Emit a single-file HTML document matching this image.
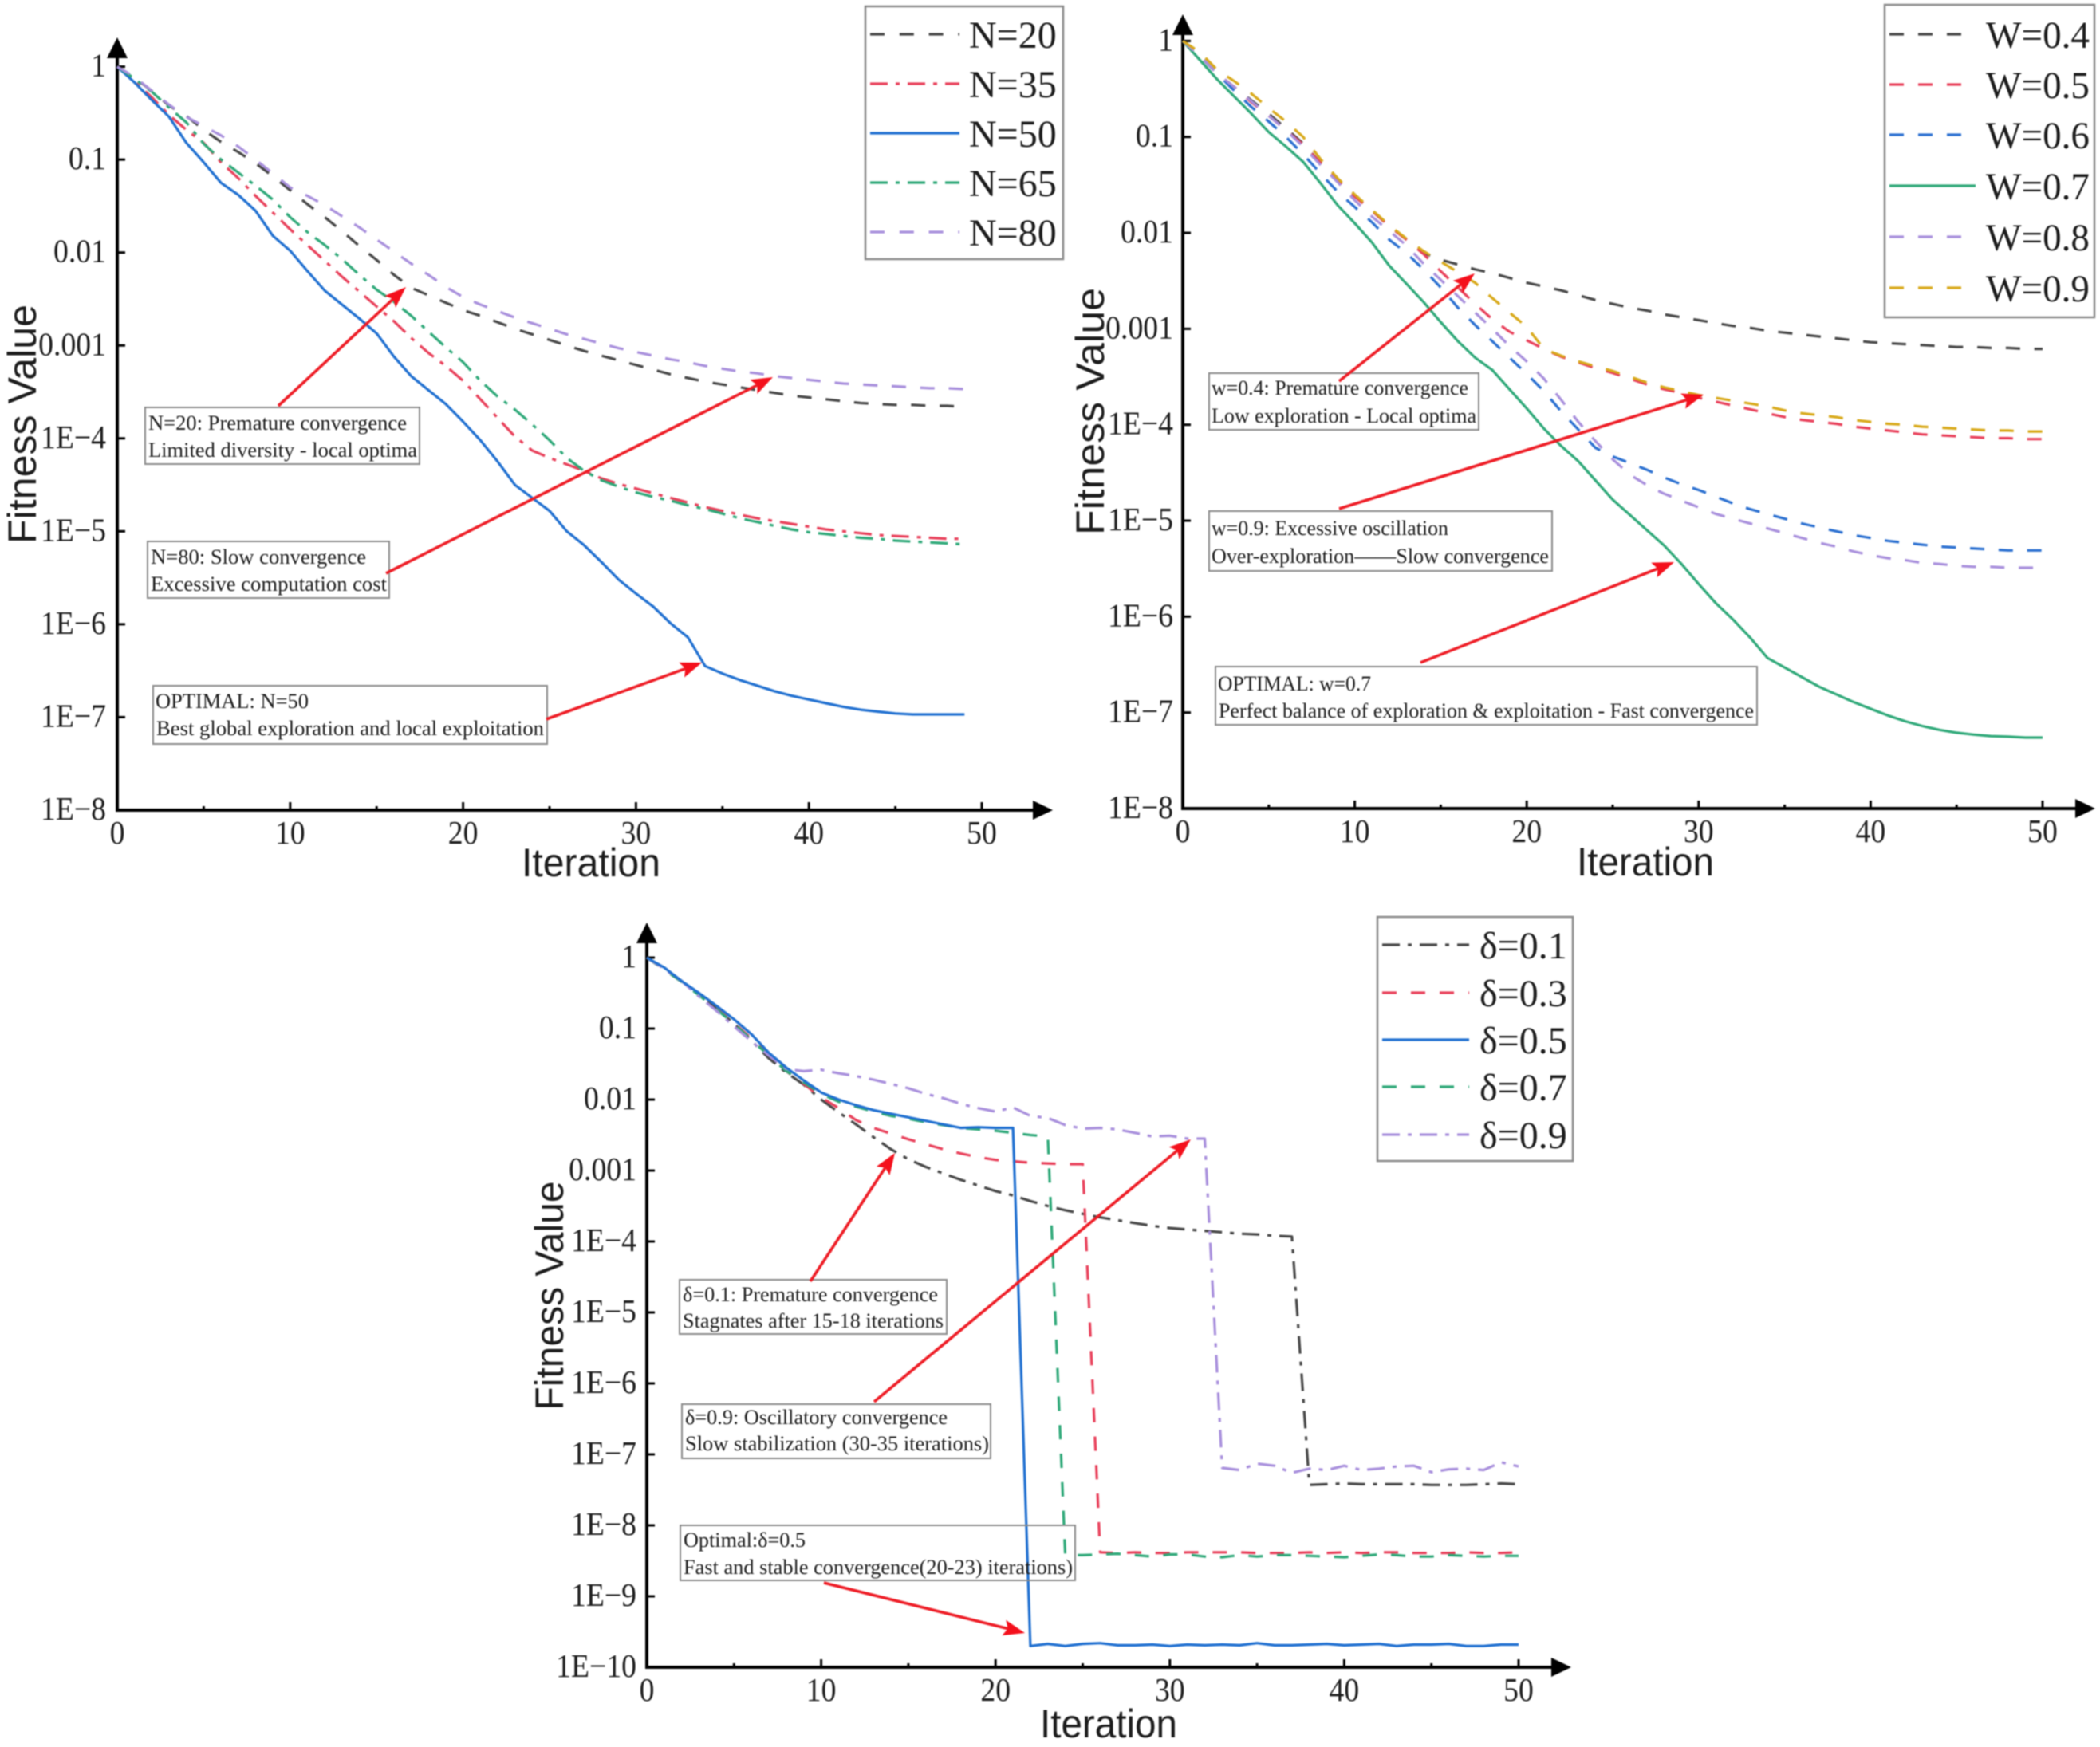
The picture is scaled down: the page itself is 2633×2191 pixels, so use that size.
<!DOCTYPE html>
<html lang="en">
<head>
<meta charset="utf-8">
<title>Fitness convergence charts</title>
<style>
html,body{margin:0;padding:0;background:#fff;}
svg{display:block;filter:blur(0.7px);}
text{fill:#1c1c1c;}
.serif{font-family:"Liberation Serif","Noto Serif CJK SC",serif;}
.sans{font-family:"Liberation Sans",sans-serif;}
.axis-title{font-family:"Liberation Sans",sans-serif;font-size:50px;}
.tick{font-family:"Liberation Serif",serif;font-size:41px;}
.legend-text{font-family:"Liberation Serif",serif;font-size:48px;}
.note{font-family:"Liberation Serif",serif;font-size:26px;}
.box{fill:none;stroke:#8a8a8a;stroke-width:2;}
.legend-box{fill:none;stroke:#8a8a8a;stroke-width:2.5;}
.swatch{fill:none;stroke-width:3.2;}
</style>
</head>
<body>
<svg xmlns="http://www.w3.org/2000/svg" width="2633" height="2191" viewBox="0 0 2633 2191">
<rect width="2633" height="2191" fill="#fff"/>

<!-- Chart 1 -->
<g id="chart-n">
  <g id="axes-n"></g>
  <g id="series-n"></g>
  <text class="axis-title" x="741" y="1099" text-anchor="middle" textLength="174" lengthAdjust="spacingAndGlyphs">Iteration</text>
  <text class="axis-title" transform="translate(45,532) rotate(-90)" text-anchor="middle" textLength="300" lengthAdjust="spacingAndGlyphs">Fitness Value</text>

  <g>
    <rect class="legend-box" x="1085" y="8" width="248" height="317"/>
    <line class="swatch" x1="1091" x2="1203" y1="43" y2="43" stroke="#474747" stroke-dasharray="18 18.8"/>
    <text class="legend-text" x="1215" y="60">N=20</text>
    <line class="swatch" x1="1091" x2="1203" y1="105" y2="105" stroke="#e8405a" stroke-dasharray="22 10 5 10"/>
    <text class="legend-text" x="1215" y="122">N=35</text>
    <line class="swatch" x1="1091" x2="1203" y1="167" y2="167" stroke="#1f6fd0"/>
    <text class="legend-text" x="1215" y="184">N=50</text>
    <line class="swatch" x1="1091" x2="1203" y1="229" y2="229" stroke="#2ea878" stroke-dasharray="22 10 5 10"/>
    <text class="legend-text" x="1215" y="246">N=65</text>
    <line class="swatch" x1="1091" x2="1203" y1="291" y2="291" stroke="#a88fdc" stroke-dasharray="18 18.8"/>
    <text class="legend-text" x="1215" y="308">N=80</text>
  </g>

  <g>
    <rect class="box" x="182" y="511" width="344" height="71"/>
    <text class="note" x="186" y="539" textLength="324" lengthAdjust="spacingAndGlyphs">N=20: Premature convergence</text>
    <text class="note" x="186" y="573" textLength="337" lengthAdjust="spacingAndGlyphs">Limited diversity - local optima</text>
  </g>
  <g>
    <rect class="box" x="185" y="679" width="303" height="71"/>
    <text class="note" x="189" y="707" textLength="270" lengthAdjust="spacingAndGlyphs">N=80: Slow convergence</text>
    <text class="note" x="189" y="741" textLength="296" lengthAdjust="spacingAndGlyphs">Excessive computation cost</text>
  </g>
  <g>
    <rect class="box" x="192" y="860" width="494" height="73"/>
    <text class="note" x="195" y="888" textLength="192" lengthAdjust="spacingAndGlyphs">OPTIMAL: N=50</text>
    <text class="note" x="196" y="922" textLength="486" lengthAdjust="spacingAndGlyphs">Best global exploration and local exploitation</text>
  </g>
  <g id="arrows-n"></g>
</g>

<!-- Chart 2 -->
<g id="chart-w">
  <g id="axes-w"></g>
  <g id="series-w"></g>
  <text class="axis-title" x="2063" y="1098" text-anchor="middle" textLength="172" lengthAdjust="spacingAndGlyphs">Iteration</text>
  <text class="axis-title" transform="translate(1384,516) rotate(-90)" text-anchor="middle" textLength="310" lengthAdjust="spacingAndGlyphs">Fitness Value</text>

  <g>
    <rect class="legend-box" x="2363" y="6" width="263" height="392"/>
    <line class="swatch" x1="2369" x2="2477" y1="43" y2="43" stroke="#474747" stroke-dasharray="18 18"/>
    <text class="legend-text" x="2490" y="60" textLength="130" lengthAdjust="spacingAndGlyphs">W=0.4</text>
    <line class="swatch" x1="2369" x2="2477" y1="106" y2="106" stroke="#e8405a" stroke-dasharray="18 18"/>
    <text class="legend-text" x="2490" y="123" textLength="130" lengthAdjust="spacingAndGlyphs">W=0.5</text>
    <line class="swatch" x1="2369" x2="2477" y1="169" y2="169" stroke="#2a6fd0" stroke-dasharray="18 18"/>
    <text class="legend-text" x="2490" y="186" textLength="130" lengthAdjust="spacingAndGlyphs">W=0.6</text>
    <line class="swatch" x1="2369" x2="2477" y1="233" y2="233" stroke="#2ea878"/>
    <text class="legend-text" x="2490" y="250" textLength="130" lengthAdjust="spacingAndGlyphs">W=0.7</text>
    <line class="swatch" x1="2369" x2="2477" y1="297" y2="297" stroke="#a88fdc" stroke-dasharray="18 18"/>
    <text class="legend-text" x="2490" y="314" textLength="130" lengthAdjust="spacingAndGlyphs">W=0.8</text>
    <line class="swatch" x1="2369" x2="2477" y1="361" y2="361" stroke="#d8a91a" stroke-dasharray="18 18"/>
    <text class="legend-text" x="2490" y="378" textLength="130" lengthAdjust="spacingAndGlyphs">W=0.9</text>
  </g>

  <g>
    <rect class="box" x="1516" y="468" width="338" height="71"/>
    <text class="note" x="1519" y="495" textLength="322" lengthAdjust="spacingAndGlyphs">w=0.4: Premature convergence</text>
    <text class="note" x="1519" y="530" textLength="332" lengthAdjust="spacingAndGlyphs">Low exploration - Local optima</text>
  </g>
  <g>
    <rect class="box" x="1516" y="641" width="430" height="75"/>
    <text class="note" x="1519" y="671" textLength="297" lengthAdjust="spacingAndGlyphs">w=0.9: Excessive oscillation</text>
    <text class="note" x="1519" y="706" textLength="423" lengthAdjust="spacingAndGlyphs">Over-exploration——Slow convergence</text>
  </g>
  <g>
    <rect class="box" x="1524" y="836" width="679" height="73"/>
    <text class="note" x="1527" y="866" textLength="192" lengthAdjust="spacingAndGlyphs">OPTIMAL: w=0.7</text>
    <text class="note" x="1528" y="900" textLength="671" lengthAdjust="spacingAndGlyphs">Perfect balance of exploration &amp; exploitation - Fast convergence</text>
  </g>
  <g id="arrows-w"></g>
</g>

<!-- Chart 3 -->
<g id="chart-d">
  <g id="axes-d"></g>
  <g id="series-d"></g>
  <text class="axis-title" x="1390" y="2179" text-anchor="middle" textLength="172" lengthAdjust="spacingAndGlyphs">Iteration</text>
  <text class="axis-title" transform="translate(706,1625) rotate(-90)" text-anchor="middle" textLength="287" lengthAdjust="spacingAndGlyphs">Fitness Value</text>

  <g>
    <rect class="legend-box" x="1727" y="1150" width="245" height="306"/>
    <line class="swatch" x1="1733" x2="1842" y1="1185" y2="1185" stroke="#474747" stroke-dasharray="22 10 5 10"/>
    <text class="legend-text" x="1855" y="1202">δ=0.1</text>
    <line class="swatch" x1="1733" x2="1842" y1="1245" y2="1245" stroke="#e8405a" stroke-dasharray="18 18"/>
    <text class="legend-text" x="1855" y="1262">δ=0.3</text>
    <line class="swatch" x1="1733" x2="1842" y1="1304" y2="1304" stroke="#1f6fd0"/>
    <text class="legend-text" x="1855" y="1321">δ=0.5</text>
    <line class="swatch" x1="1733" x2="1842" y1="1363" y2="1363" stroke="#2ea878" stroke-dasharray="18 18"/>
    <text class="legend-text" x="1855" y="1380">δ=0.7</text>
    <line class="swatch" x1="1733" x2="1842" y1="1423" y2="1423" stroke="#a88fdc" stroke-dasharray="22 10 5 10"/>
    <text class="legend-text" x="1855" y="1440">δ=0.9</text>
  </g>

  <g>
    <rect class="box" x="852" y="1605" width="335" height="68"/>
    <text class="note" x="856" y="1632" textLength="320" lengthAdjust="spacingAndGlyphs">δ=0.1: Premature convergence</text>
    <text class="note" x="856" y="1665" textLength="327" lengthAdjust="spacingAndGlyphs">Stagnates after 15-18 iterations</text>
  </g>
  <g>
    <rect class="box" x="855" y="1761" width="387" height="68"/>
    <text class="note" x="859" y="1786" textLength="329" lengthAdjust="spacingAndGlyphs">δ=0.9: Oscillatory convergence</text>
    <text class="note" x="859" y="1819" textLength="381" lengthAdjust="spacingAndGlyphs">Slow stabilization (30-35 iterations)</text>
  </g>
  <g>
    <rect class="box" x="853" y="1913" width="495" height="69"/>
    <text class="note" x="857" y="1940" textLength="153" lengthAdjust="spacingAndGlyphs">Optimal:δ=0.5</text>
    <text class="note" x="857" y="1974" textLength="488" lengthAdjust="spacingAndGlyphs">Fast and stable convergence(20-23) iterations)</text>
  </g>
  <g id="arrows-d"></g>
</g>
</svg>

<script>
// Tick labels
var xTickLabels = ['0','10','20','30','40','50'];
var yTickLabelsEight = ['1','0.1','0.01','0.001','1E\u22124','1E\u22125','1E\u22126','1E\u22127','1E\u22128'];
var yTickLabelsTen = ['1','0.1','0.01','0.001','1E\u22124','1E\u22125','1E\u22126','1E\u22127','1E\u22128','1E\u22129','1E\u221210'];

// log10(fitness) per iteration, population-size chart
var n20Log = [0,-.12,-.26,-.42,-.53,-.68,-.81,-.92,-1.04,-1.18,-1.33,-1.48,-1.62,-1.77,-1.93,-2.08,-2.24,-2.38,-2.46,-2.54,-2.62,-2.68,-2.75,-2.82,-2.88,-2.94,-3.0,-3.06,-3.11,-3.16,-3.21,-3.26,-3.31,-3.35,-3.39,-3.42,-3.45,-3.48,-3.51,-3.54,-3.56,-3.58,-3.60,-3.62,-3.63,-3.64,-3.64,-3.65,-3.65,-3.66];
var n35Log = [0,-.16,-.33,-.52,-.68,-.82,-1.03,-1.20,-1.39,-1.57,-1.75,-1.92,-2.09,-2.26,-2.42,-2.58,-2.74,-2.92,-3.08,-3.22,-3.38,-3.58,-3.78,-3.98,-4.13,-4.21,-4.28,-4.35,-4.43,-4.49,-4.54,-4.59,-4.64,-4.69,-4.74,-4.78,-4.82,-4.86,-4.89,-4.92,-4.95,-4.98,-5.0,-5.02,-5.04,-5.05,-5.06,-5.07,-5.08,-5.08];
var n50Log = [0,-.17,-.36,-.54,-.82,-1.03,-1.25,-1.38,-1.55,-1.82,-1.98,-2.20,-2.41,-2.56,-2.71,-2.87,-3.12,-3.33,-3.48,-3.63,-3.82,-4.02,-4.25,-4.50,-4.64,-4.78,-5.0,-5.15,-5.33,-5.52,-5.67,-5.81,-5.99,-6.14,-6.45,-6.53,-6.60,-6.66,-6.72,-6.77,-6.81,-6.85,-6.89,-6.92,-6.94,-6.96,-6.97,-6.97,-6.97,-6.97];
var n65Log = [0,-.13,-.27,-.44,-.60,-.83,-1.0,-1.14,-1.28,-1.43,-1.62,-1.78,-1.92,-2.07,-2.24,-2.40,-2.53,-2.68,-2.85,-3.02,-3.18,-3.38,-3.55,-3.69,-3.85,-4.02,-4.21,-4.35,-4.45,-4.52,-4.58,-4.63,-4.67,-4.72,-4.76,-4.81,-4.86,-4.90,-4.94,-4.98,-5.01,-5.03,-5.05,-5.07,-5.08,-5.10,-5.11,-5.12,-5.13,-5.14];
var n80Log = [0,-.11,-.26,-.41,-.54,-.64,-.74,-.86,-1.0,-1.15,-1.30,-1.39,-1.49,-1.61,-1.73,-1.86,-1.99,-2.12,-2.24,-2.37,-2.48,-2.56,-2.63,-2.70,-2.76,-2.82,-2.88,-2.93,-2.98,-3.03,-3.07,-3.11,-3.15,-3.18,-3.22,-3.25,-3.28,-3.30,-3.33,-3.35,-3.37,-3.39,-3.41,-3.42,-3.43,-3.44,-3.45,-3.46,-3.46,-3.47];

// log10(fitness) per iteration, inertia-weight chart
var w04Log = [0,-.16,-.34,-.48,-.62,-.76,-.91,-1.07,-1.27,-1.45,-1.62,-1.77,-1.93,-2.07,-2.21,-2.28,-2.33,-2.38,-2.42,-2.47,-2.52,-2.56,-2.60,-2.65,-2.70,-2.74,-2.78,-2.81,-2.85,-2.88,-2.91,-2.94,-2.97,-2.99,-3.02,-3.04,-3.06,-3.08,-3.10,-3.12,-3.14,-3.15,-3.16,-3.17,-3.18,-3.19,-3.19,-3.20,-3.20,-3.21,-3.21];
var w05Log = [0,-.16,-.34,-.48,-.64,-.78,-.93,-1.08,-1.27,-1.45,-1.62,-1.77,-1.93,-2.07,-2.22,-2.40,-2.57,-2.74,-2.90,-3.03,-3.12,-3.21,-3.29,-3.35,-3.41,-3.46,-3.52,-3.58,-3.63,-3.67,-3.72,-3.76,-3.80,-3.84,-3.88,-3.92,-3.95,-3.97,-3.99,-4.02,-4.04,-4.06,-4.08,-4.10,-4.11,-4.12,-4.13,-4.14,-4.14,-4.15,-4.15];
var w06Log = [0,-.16,-.34,-.52,-.69,-.84,-1.0,-1.18,-1.38,-1.57,-1.73,-1.89,-2.07,-2.21,-2.38,-2.57,-2.78,-2.96,-3.13,-3.30,-3.47,-3.65,-3.86,-4.05,-4.24,-4.33,-4.40,-4.47,-4.55,-4.62,-4.68,-4.75,-4.82,-4.88,-4.93,-4.98,-5.03,-5.07,-5.11,-5.15,-5.18,-5.21,-5.23,-5.25,-5.27,-5.28,-5.29,-5.30,-5.31,-5.31,-5.31];
var w07Log = [0,-.20,-.40,-.58,-.76,-.95,-1.10,-1.26,-1.48,-1.71,-1.90,-2.10,-2.34,-2.53,-2.72,-2.93,-3.13,-3.30,-3.43,-3.63,-3.83,-4.04,-4.22,-4.38,-4.58,-4.78,-4.94,-5.10,-5.26,-5.45,-5.66,-5.86,-6.03,-6.22,-6.43,-6.53,-6.63,-6.73,-6.81,-6.89,-6.96,-7.03,-7.09,-7.14,-7.18,-7.21,-7.23,-7.245,-7.25,-7.26,-7.26];
var w08Log = [0,-.16,-.34,-.48,-.63,-.78,-.93,-1.10,-1.29,-1.47,-1.66,-1.83,-1.98,-2.13,-2.32,-2.49,-2.66,-2.83,-3.0,-3.18,-3.34,-3.52,-3.74,-3.97,-4.17,-4.36,-4.52,-4.63,-4.72,-4.79,-4.86,-4.93,-4.98,-5.03,-5.08,-5.13,-5.18,-5.23,-5.27,-5.32,-5.36,-5.39,-5.41,-5.44,-5.45,-5.47,-5.48,-5.48,-5.49,-5.49,-5.49];
var w09Log = [0,-.12,-.30,-.42,-.55,-.70,-.84,-1.0,-1.23,-1.43,-1.60,-1.76,-1.92,-2.06,-2.19,-2.30,-2.41,-2.52,-2.68,-2.83,-2.98,-3.21,-3.28,-3.34,-3.39,-3.44,-3.50,-3.56,-3.61,-3.65,-3.69,-3.72,-3.75,-3.78,-3.81,-3.85,-3.88,-3.90,-3.92,-3.95,-3.97,-3.99,-4.00,-4.02,-4.03,-4.04,-4.05,-4.06,-4.06,-4.07,-4.07];

// log10(fitness) per iteration, delta chart
var d01Log = [0,-.15,-.33,-.52,-.72,-.93,-1.17,-1.42,-1.62,-1.79,-2.00,-2.18,-2.35,-2.53,-2.70,-2.84,-2.95,-3.04,-3.13,-3.21,-3.29,-3.35,-3.43,-3.50,-3.56,-3.61,-3.66,-3.70,-3.74,-3.78,-3.81,-3.83,-3.85,-3.87,-3.89,-3.90,-3.92,-3.93,-7.43,-7.42,-7.41,-7.42,-7.42,-7.42,-7.42,-7.43,-7.43,-7.43,-7.42,-7.41,-7.42];
var d03Log = [0,-.17,-.34,-.52,-.72,-.92,-1.14,-1.36,-1.60,-1.78,-1.97,-2.12,-2.29,-2.40,-2.48,-2.56,-2.63,-2.70,-2.76,-2.81,-2.85,-2.87,-2.89,-2.90,-2.91,-2.91,-8.38,-8.39,-8.38,-8.39,-8.39,-8.38,-8.38,-8.38,-8.38,-8.39,-8.39,-8.39,-8.38,-8.39,-8.38,-8.39,-8.38,-8.38,-8.39,-8.39,-8.39,-8.38,-8.39,-8.39,-8.38];
var d05Log = [0,-.14,-.33,-.50,-.68,-.87,-1.08,-1.34,-1.55,-1.73,-1.90,-2.00,-2.08,-2.15,-2.20,-2.25,-2.30,-2.35,-2.40,-2.39,-2.40,-2.40,-9.70,-9.67,-9.70,-9.67,-9.66,-9.69,-9.69,-9.68,-9.70,-9.68,-9.69,-9.68,-9.69,-9.66,-9.69,-9.69,-9.68,-9.67,-9.69,-9.68,-9.67,-9.70,-9.68,-9.68,-9.67,-9.70,-9.70,-9.68,-9.68];
var d07Log = [0,-.17,-.34,-.53,-.73,-.93,-1.16,-1.38,-1.60,-1.76,-1.92,-2.03,-2.10,-2.17,-2.23,-2.27,-2.32,-2.36,-2.40,-2.42,-2.44,-2.47,-2.50,-2.52,-8.42,-8.42,-8.41,-8.40,-8.42,-8.44,-8.41,-8.41,-8.44,-8.45,-8.42,-8.44,-8.42,-8.42,-8.43,-8.44,-8.45,-8.43,-8.41,-8.42,-8.44,-8.44,-8.42,-8.43,-8.44,-8.43,-8.43];
var d09Log = [0,-.16,-.33,-.55,-.75,-.97,-1.18,-1.38,-1.57,-1.60,-1.58,-1.63,-1.67,-1.72,-1.78,-1.84,-1.92,-1.98,-2.06,-2.12,-2.17,-2.11,-2.23,-2.26,-2.36,-2.41,-2.40,-2.42,-2.47,-2.52,-2.51,-2.55,-2.55,-7.19,-7.22,-7.13,-7.16,-7.26,-7.20,-7.22,-7.16,-7.22,-7.20,-7.17,-7.16,-7.25,-7.21,-7.20,-7.22,-7.11,-7.17];

var SVG_NS = 'http://www.w3.org/2000/svg';
var DASH = '18 17.8';
var DASHDOT = '22 10 5 10';
var BLACK = '#474747', RED = '#e8405a', BLUE = '#1f6fd0', GREEN = '#2ea878', PURPLE = '#a88fdc', YELLOW = '#d8a91a';

function el(tag, parent) {
  var node = document.createElementNS(SVG_NS, tag);
  parent.appendChild(node);
  return node;
}

function makeScales(box, minLog) {
  return {
    x: function (iter) { return box.left + (box.right - box.left) * iter / 50; },
    y: function (logValue) { return box.top + (box.bottom - box.top) * logValue / minLog; }
  };
}

function drawAxes(groupId, box, scales, yLabels, labelRight) {
  var g = document.getElementById(groupId);
  var yAxis = el('line', g);
  
  
  yAxis.setAttribute('x1', box.left);
  yAxis.setAttribute('x2', box.left);
  yAxis.setAttribute('y1', box.arrowTop + 20);
  yAxis.setAttribute('y2', box.bottom + 2);
  yAxis.setAttribute('stroke', '#000');
  yAxis.setAttribute('stroke-width', '4');

  var xAxis = el('line', g);
  
  
  xAxis.setAttribute('x1', box.left - 2);
  xAxis.setAttribute('x2', box.arrowRight - 20);
  xAxis.setAttribute('y1', box.bottom);
  xAxis.setAttribute('y2', box.bottom);
  xAxis.setAttribute('stroke', '#000');
  xAxis.setAttribute('stroke-width', '4');

  var upHead = el('polygon', g);
  
  
  upHead.setAttribute('points', box.left + ',' + box.arrowTop + ' ' + (box.left - 13) + ',' + (box.arrowTop + 26) + ' ' + (box.left + 13) + ',' + (box.arrowTop + 26));
  upHead.setAttribute('fill', '#000');

  var rightHead = el('polygon', g);
  
  
  rightHead.setAttribute('points', box.arrowRight + ',' + box.bottom + ' ' + (box.arrowRight - 25) + ',' + (box.bottom - 12) + ' ' + (box.arrowRight - 25) + ',' + (box.bottom + 12));
  rightHead.setAttribute('fill', '#000');

  yLabels.forEach(function (label, i) {
    var y = scales.y(-i);
    if (i < yLabels.length - 1) {
      var tick = el('line', g);
      
      
      tick.setAttribute('x1', box.left);
      tick.setAttribute('x2', box.left + 10);
      tick.setAttribute('y1', y);
      tick.setAttribute('y2', y);
      tick.setAttribute('stroke', '#000');
      tick.setAttribute('stroke-width', '3');
    }
    var t = el('text', g);
    
    
    t.setAttribute('class', 'tick');
    t.setAttribute('transform', 'translate(' + labelRight + ',' + (y + 12) + ') scale(0.92,1)');
    t.setAttribute('text-anchor', 'end');
    t.textContent = label;
  });

  xTickLabels.forEach(function (label, i) {
    var iter = Number(label);
    var x = scales.x(iter);
    if (i > 0) {
      var tick = el('line', g);
      
      
      tick.setAttribute('x1', x);
      tick.setAttribute('x2', x);
      tick.setAttribute('y1', box.bottom);
      tick.setAttribute('y2', box.bottom - 10);
      tick.setAttribute('stroke', '#000');
      tick.setAttribute('stroke-width', '3');
    }
    if (i < xTickLabels.length - 1) {
      var minor = el('line', g);
      
      
      minor.setAttribute('x1', scales.x(iter + 5));
      minor.setAttribute('x2', scales.x(iter + 5));
      minor.setAttribute('y1', box.bottom);
      minor.setAttribute('y2', box.bottom - 5);
      minor.setAttribute('stroke', '#000');
      minor.setAttribute('stroke-width', '3');
    }
    var t = el('text', g);
    
    
    t.setAttribute('class', 'tick');
    t.setAttribute('transform', 'translate(' + x + ',' + (box.bottom + 42) + ') scale(0.92,1)');
    t.setAttribute('text-anchor', 'middle');
    t.textContent = label;
  });
}

function drawSeries(groupId, scales, values, name, color, dash) {
  var g = document.getElementById(groupId);
  var d = values.map(function (v, i) {
    return (i ? 'L' : 'M') + scales.x(i).toFixed(1) + ' ' + scales.y(v).toFixed(1);
  }).join(' ');
  var p = el('path', g);
  
  
  p.setAttribute('d', d);
  p.setAttribute('fill', 'none');
  p.setAttribute('stroke', color);
  p.setAttribute('stroke-width', '3.2');
  p.setAttribute('stroke-linejoin', 'round');
  if (dash) { p.setAttribute('stroke-dasharray', dash); }
}

function drawArrow(groupId, x1, y1, x2, y2) {
  var g = document.getElementById(groupId);
  var dx = x2 - x1, dy = y2 - y1, len = Math.sqrt(dx * dx + dy * dy);
  var ux = dx / len, uy = dy / len, headLen = 27, half = 10, notch = 22;
  var line = el('line', g);
  
  
  line.setAttribute('x1', x1);
  line.setAttribute('y1', y1);
  line.setAttribute('x2', x2 - ux * notch);
  line.setAttribute('y2', y2 - uy * notch);
  line.setAttribute('stroke', '#ee1c25');
  line.setAttribute('stroke-width', '3.6');
  var head = el('polygon', g);
  
  
  head.setAttribute('points', [
    x2 + ',' + y2,
    (x2 - ux * headLen - uy * half) + ',' + (y2 - uy * headLen + ux * half),
    (x2 - ux * notch) + ',' + (y2 - uy * notch),
    (x2 - ux * headLen + uy * half) + ',' + (y2 - uy * headLen - ux * half)
  ].join(' '));
  head.setAttribute('fill', '#f4101c');
}

// Chart 1
var boxN = { left: 147, right: 1231, top: 83.6, bottom: 1016, arrowTop: 47, arrowRight: 1320 };
var scalesN = makeScales(boxN, -8);
drawAxes('axes-n', boxN, scalesN, yTickLabelsEight, 133);
drawSeries('series-n', scalesN, n20Log, 'series-n20', BLACK, DASH);
drawSeries('series-n', scalesN, n35Log, 'series-n35', RED, DASHDOT);
drawSeries('series-n', scalesN, n50Log, 'series-n50', BLUE, null);
drawSeries('series-n', scalesN, n65Log, 'series-n65', GREEN, DASHDOT);
drawSeries('series-n', scalesN, n80Log, 'series-n80', PURPLE, DASH);
drawArrow('arrows-n', 349, 509, 509, 360);
drawArrow('arrows-n', 484, 719, 969, 473);
drawArrow('arrows-n', 685, 902, 880, 831);

// Chart 2
var boxW = { left: 1483, right: 2561, top: 51.4, bottom: 1014, arrowTop: 18, arrowRight: 2627 };
var scalesW = makeScales(boxW, -8);
drawAxes('axes-w', boxW, scalesW, yTickLabelsEight, 1471);
drawSeries('series-w', scalesW, w04Log, 'series-w04', BLACK, DASH);
drawSeries('series-w', scalesW, w05Log, 'series-w05', RED, DASH);
drawSeries('series-w', scalesW, w06Log, 'series-w06', '#2a6fd0', DASH);
drawSeries('series-w', scalesW, w07Log, 'series-w07', GREEN, null);
drawSeries('series-w', scalesW, w08Log, 'series-w08', PURPLE, DASH);
drawSeries('series-w', scalesW, w09Log, 'series-w09', YELLOW, DASH);
drawArrow('arrows-w', 1679, 478, 1849, 343);
drawArrow('arrows-w', 1679, 638, 2136, 495);
drawArrow('arrows-w', 1781, 831, 2099, 705);

// Chart 3
var boxD = { left: 811, right: 1904, top: 1201, bottom: 2091, arrowTop: 1157, arrowRight: 1970 };
var scalesD = makeScales(boxD, -10);
drawAxes('axes-d', boxD, scalesD, yTickLabelsTen, 798);
drawSeries('series-d', scalesD, d01Log, 'series-d01', BLACK, DASHDOT);
drawSeries('series-d', scalesD, d03Log, 'series-d03', RED, DASH);
drawSeries('series-d', scalesD, d07Log, 'series-d07', GREEN, DASH);
drawSeries('series-d', scalesD, d09Log, 'series-d09', PURPLE, DASHDOT);
drawSeries('series-d', scalesD, d05Log, 'series-d05', BLUE, null);
drawArrow('arrows-d', 1016, 1607, 1122, 1446);
drawArrow('arrows-d', 1096, 1758, 1493, 1429);
drawArrow('arrows-d', 1033, 1985, 1285, 2048);
</script>
</body>
</html>
